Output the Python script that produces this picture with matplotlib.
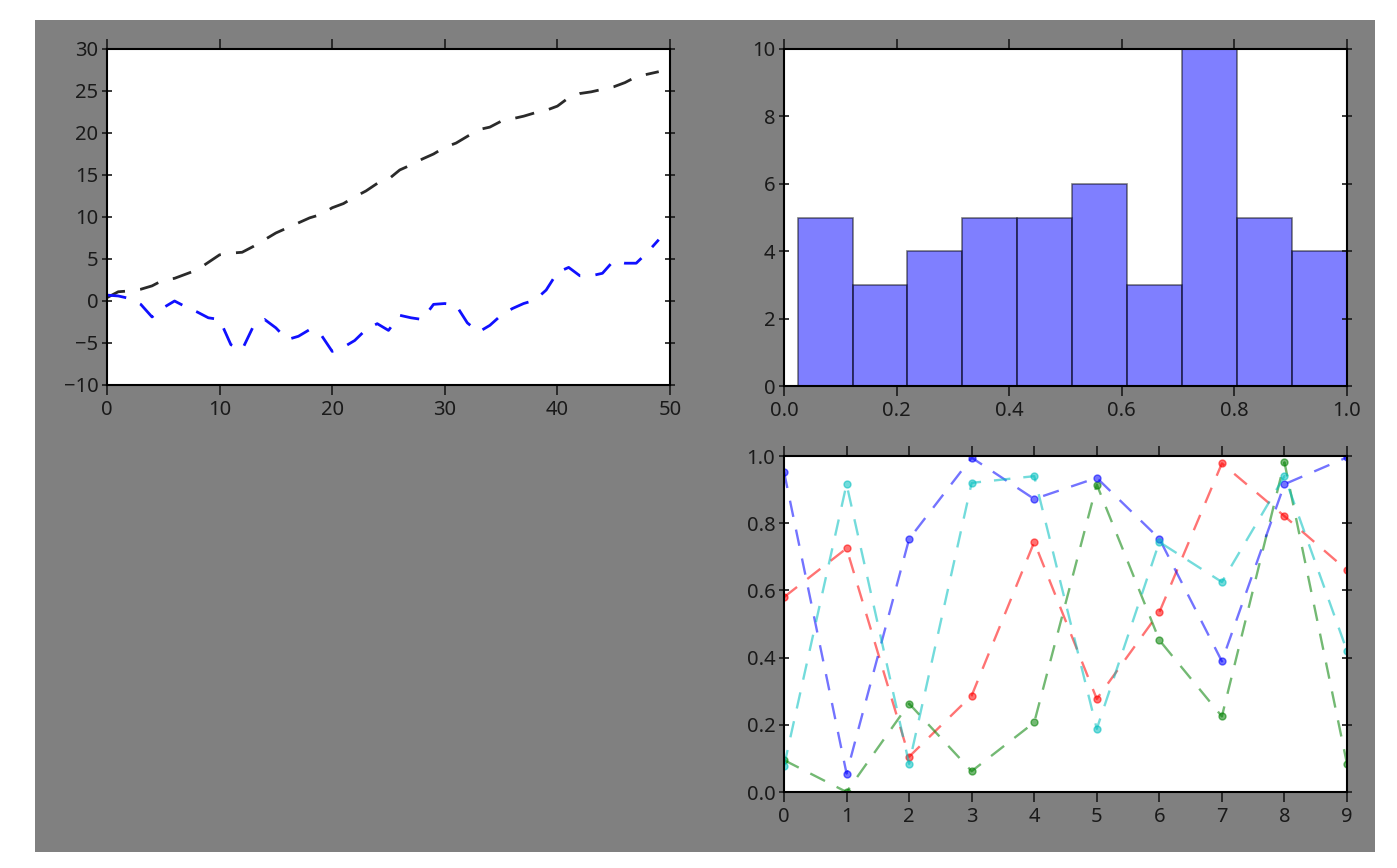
import matplotlib.pyplot as plt
from matplotlib.patches import Rectangle

# top-left: two random walks
walk_black = [0.4, 1.1, 1.2, 1.4, 1.8, 2.5, 2.7, 3.2, 3.7, 4.6,
              5.5, 5.7, 5.8, 6.5, 7.3, 8.1, 8.7, 9.3, 9.9, 10.3,
              11.1, 11.6, 12.4, 13.1, 14.0, 14.5, 15.6, 16.2, 16.9, 17.5,
              18.3, 18.8, 19.6, 20.4, 20.7, 21.4, 21.7, 22.0, 22.4, 22.7,
              23.2, 24.2, 24.7, 24.9, 25.2, 25.5, 26.0, 26.7, 27.0, 27.3]
walk_blue = [0.7, 0.6, 0.3, -0.4, -1.9, -0.8, 0.0, -0.7, -1.3, -2.0,
             -2.2, -5.2, -5.8, -3.0, -2.2, -3.2, -4.6, -4.2, -3.4, -4.0,
             -6.0, -5.5, -4.7, -3.4, -2.7, -3.5, -1.7, -2.0, -2.2, -0.4,
             -0.3, -0.5, -2.6, -3.7, -2.9, -1.7, -0.9, -0.3, 0.1, 1.3,
             3.4, 4.0, 3.0, 3.0, 3.3, 4.8, 4.5, 4.5, 5.8, 7.3]

# top-right: histogram
hist_edges = [0.024, 0.122, 0.219, 0.317, 0.414, 0.512, 0.609, 0.707, 0.805, 0.902, 1.0]
hist_counts = [5, 3, 4, 5, 5, 6, 3, 10, 5, 4]

# bottom-right: four dashed series
xs = [0, 1, 2, 3, 4, 5, 6, 7, 8, 9]
red_vals = [0.58, 0.725, 0.105, 0.287, 0.744, 0.277, 0.535, 0.978, 0.821, 0.66]
green_vals = [0.095, 0.0, 0.263, 0.062, 0.207, 0.915, 0.452, 0.225, 0.981, 0.084]
blue_vals = [0.953, 0.055, 0.753, 0.995, 0.872, 0.935, 0.754, 0.389, 0.916, 0.996]
cyan_vals = [0.077, 0.916, 0.084, 0.92, 0.94, 0.188, 0.744, 0.625, 0.94, 0.42]

W, H = 1397, 868
plt.rcParams['font.family'] = ['Noto Sans', 'DejaVu Sans']
fig = plt.figure(figsize=(W / 100, H / 100), dpi=100, facecolor='white')
bg = Rectangle((35 / W, 16 / H), 1340 / W, 832 / H, transform=fig.transFigure,
               facecolor='#808080', edgecolor='none', zorder=-10)
fig.add_artist(bg)


def px_axes(left, top, right, bottom):
    return fig.add_axes([left / W, (H - bottom) / H, (right - left) / W, (bottom - top) / H])


def style(ax):
    for s in ax.spines.values():
        s.set_linewidth(1.5)
        s.set_color('black')
    ax.tick_params(axis='x', which='major', direction='out', length=7, width=1.2,
                   top=True, bottom=True, labelsize=14.5, colors='#1a1a1a', pad=4)
    ax.tick_params(axis='y', which='major', direction='inout', length=6.5, width=1.2,
                   left=True, right=True, labelsize=14.5, colors='#1a1a1a', pad=3)
    ax.set_facecolor('white')


ax1 = px_axes(107, 49, 670, 385)
ax1.plot(range(len(walk_black)), walk_black, color='#2a2a2a', lw=2, dashes=(7, 5.5))
ax1.plot(range(len(walk_blue)), walk_blue, color='#1010ff', lw=2, dashes=(7, 5.5))
ax1.set_xlim(0, 50)
ax1.set_ylim(-10, 30)
ax1.set_xticks(range(0, 51, 10))
ax1.set_yticks(range(-10, 31, 5))
style(ax1)

ax2 = px_axes(784, 49, 1347, 386)
centres = [(hist_edges[i] + hist_edges[i + 1]) / 2 for i in range(len(hist_counts))]
ax2.hist(centres, bins=hist_edges, weights=hist_counts, color='blue',
         edgecolor='black', linewidth=1.2, alpha=0.5)
ax2.set_xlim(0, 1.0)
ax2.set_ylim(0, 10)
ax2.set_xticks([0.0, 0.2, 0.4, 0.6, 0.8, 1.0])
ax2.set_yticks(range(0, 11, 2))
style(ax2)

ax3 = px_axes(784, 456, 1347, 792)
for vals, col in [(red_vals, 'red'), (green_vals, 'green'),
                  (blue_vals, 'blue'), (cyan_vals, 'c')]:
    ax3.plot(xs, vals, color=col, lw=1.7, dashes=(7, 5.5), marker='o',
             markersize=5, markeredgecolor=col, alpha=0.55, clip_on=True)
ax3.set_xlim(0, 9)
ax3.set_ylim(0, 1.0)
ax3.set_xticks(range(10))
ax3.set_yticks([0.0, 0.2, 0.4, 0.6, 0.8, 1.0])
style(ax3)

fig.savefig('out.png', dpi=100, facecolor='white')
